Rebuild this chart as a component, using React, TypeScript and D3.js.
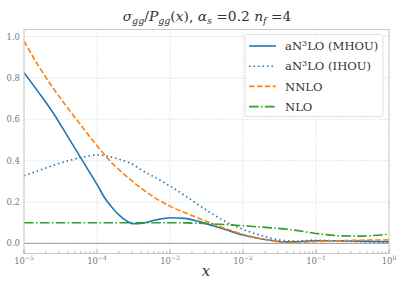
import React from 'react'
import * as d3 from 'd3'

// log10(x) grid the curves were read on
const logX = [-5, -4.8, -4.6, -4.4, -4.2, -4.0, -3.9, -3.8, -3.7, -3.6, -3.5, -3.4, -3.2, -3.0, -2.8, -2.6, -2.4, -2.2, -2.0, -1.8, -1.6, -1.45, -1.3, -1.0, -0.7, -0.4, 0]

const mhou = [0.825, 0.73, 0.63, 0.516, 0.40, 0.285, 0.223, 0.176, 0.138, 0.11, 0.095, 0.096, 0.113, 0.124, 0.121, 0.105, 0.084, 0.062, 0.04, 0.025, 0.014, 0.007, 0.007, 0.013, 0.013, 0.011, 0.008]
const ihou = [0.327, 0.352, 0.377, 0.399, 0.416, 0.427, 0.424, 0.417, 0.407, 0.395, 0.38, 0.357, 0.318, 0.277, 0.232, 0.184, 0.138, 0.098, 0.068, 0.043, 0.024, 0.014, 0.011, 0.015, 0.012, 0.008, 0.005]
const nnlo = [0.978, 0.857, 0.75, 0.654, 0.562, 0.472, 0.43, 0.39, 0.357, 0.325, 0.296, 0.268, 0.219, 0.18, 0.149, 0.12, 0.093, 0.067, 0.044, 0.026, 0.013, 0.006, 0.004, 0.009, 0.013, 0.015, 0.017]
const nlo = [0.1, 0.1, 0.1, 0.1, 0.1, 0.1, 0.1, 0.1, 0.1, 0.1, 0.1, 0.1, 0.1, 0.1, 0.099, 0.097, 0.094, 0.09, 0.085, 0.08, 0.075, 0.07, 0.064, 0.048, 0.037, 0.035, 0.045]

const xTickExps = [-5, -4, -3, -2, -1, 0]
const yTicks = [0.0, 0.2, 0.4, 0.6, 0.8, 1.0]

const series = [
  { label: 'MHOU', values: mhou, color: '#1f77b4', dash: null },
  { label: 'IHOU', values: ihou, color: '#1f77b4', dash: '1.5,3' },
  { label: 'NNLO', values: nnlo, color: '#ff7f0e', dash: '5.5,2.4' },
  { label: 'NLO', values: nlo, color: '#2ca02c', dash: '9.6,2.4,1.5,2.4' },
]

const W = 407
const H = 291
const m = { left: 24, right: 389, top: 29.5, bottom: 253.5 }
const font = "'DejaVu Serif', serif"

export default function App() {
  const x = d3.scaleLog().domain([1e-5, 1]).range([m.left, m.right])
  const y = d3.scaleLinear().domain([-0.049, 1.034]).range([m.bottom, m.top])

  const line = d3.line<number>()
    .x((_, i) => x(Math.pow(10, logX[i])))
    .y(d => y(d))
    .curve(d3.curveMonotoneX)

  const minor: number[] = []
  for (let e = -5; e < 0; e++) {
    for (let k = 2; k <= 9; k++) minor.push(k * Math.pow(10, e))
  }

  const grid = '#d9d9d9'
  const tickCol = '#777'

  return (
    <svg width={W} height={H} style={{ position: 'absolute', left: 0, top: 0, background: '#fff', fontFamily: font }}>
      {/* grid */}
      {xTickExps.map(e => (
        <line key={'gx' + e} x1={x(Math.pow(10, e))} x2={x(Math.pow(10, e))} y1={m.top} y2={m.bottom}
          stroke={grid} strokeWidth={0.8} strokeDasharray="1.5,1.5" />
      ))}
      {yTicks.map(t => (
        <line key={'gy' + t} x1={m.left} x2={m.right} y1={y(t)} y2={y(t)}
          stroke={grid} strokeWidth={0.8} strokeDasharray="1.5,1.5" />
      ))}

      {/* zero line */}
      <line x1={m.left} x2={m.right} y1={y(0)} y2={y(0)} stroke="#999" strokeWidth={1} />

      {/* curves */}
      <defs>
        <clipPath id="clip">
          <rect x={m.left} y={m.top} width={m.right - m.left} height={m.bottom - m.top} />
        </clipPath>
      </defs>
      <g clipPath="url(#clip)">
        {series.map(s => (
          <path key={s.label} d={line(s.values) || ''} fill="none" stroke={s.color}
            strokeWidth={1.6} strokeDasharray={s.dash || undefined} />
        ))}
      </g>

      {/* frame */}
      <rect x={m.left} y={m.top} width={m.right - m.left} height={m.bottom - m.top}
        fill="none" stroke="#c8c8c8" strokeWidth={1} />

      {/* x ticks */}
      {minor.map((v, i) => (
        <line key={'mn' + i} x1={x(v)} x2={x(v)} y1={m.bottom} y2={m.bottom - 2.5} stroke="#999" strokeWidth={0.6} />
      ))}
      {xTickExps.map(e => (
        <g key={'xt' + e}>
          <line x1={x(Math.pow(10, e))} x2={x(Math.pow(10, e))} y1={m.bottom} y2={m.bottom - 4} stroke="#999" strokeWidth={0.8} />
          <text x={x(Math.pow(10, e))} y={263.5} textAnchor="middle" fontSize={8.5} fill={tickCol}>
            10<tspan dy={-4} fontSize={6}>{e === 0 ? '0' : '\u2212' + Math.abs(e)}</tspan>
          </text>
        </g>
      ))}

      {/* y ticks */}
      {yTicks.map(t => (
        <text key={'yt' + t} x={20} y={y(t) + 3} textAnchor="end" fontSize={8.5} fill={tickCol}>
          {t.toFixed(1)}
        </text>
      ))}

      {/* title */}
      <text x={207} y={21} textAnchor="middle" fontSize={13.8} fill="#333">
        <tspan fontStyle="italic">σ</tspan>
        <tspan fontStyle="italic" fontSize={9.5} dy={3}>gg</tspan>
        <tspan dy={-3}>/</tspan>
        <tspan fontStyle="italic">P</tspan>
        <tspan fontStyle="italic" fontSize={9.5} dy={3}>gg</tspan>
        <tspan dy={-3}>(</tspan>
        <tspan fontStyle="italic">x</tspan>
        <tspan>),  </tspan>
        <tspan fontStyle="italic">α</tspan>
        <tspan fontStyle="italic" fontSize={9.5} dy={3}>s</tspan>
        <tspan dy={-3}> =0.2 </tspan>
        <tspan fontStyle="italic">n</tspan>
        <tspan fontStyle="italic" fontSize={9.5} dy={3}>f</tspan>
        <tspan dy={-3}> =4</tspan>
      </text>

      {/* x label */}
      <text x={206} y={276} textAnchor="middle" fontSize={15} fontStyle="italic" fill="#333">x</text>

      {/* legend */}
      <rect x={245} y={34.5} width={138} height={82} rx={2} fill="#fff" fillOpacity={0.85} stroke="#d8d8d8" strokeWidth={0.8} />
      {series.map((s, i) => {
        const ly = 46 + i * 20.2
        return (
          <g key={'lg' + s.label}>
            <line x1={249} x2={276} y1={ly} y2={ly} stroke={s.color} strokeWidth={1.6} strokeDasharray={s.dash || undefined} />
            <text x={285} y={ly + 4.2} fontSize={11.6} fill="#333">
              {i < 2 ? (
                <>aN<tspan dy={-4.5} fontSize={8}>3</tspan><tspan dy={4.5}>LO ({s.label})</tspan></>
              ) : s.label}
            </text>
          </g>
        )
      })}
    </svg>
  )
}
